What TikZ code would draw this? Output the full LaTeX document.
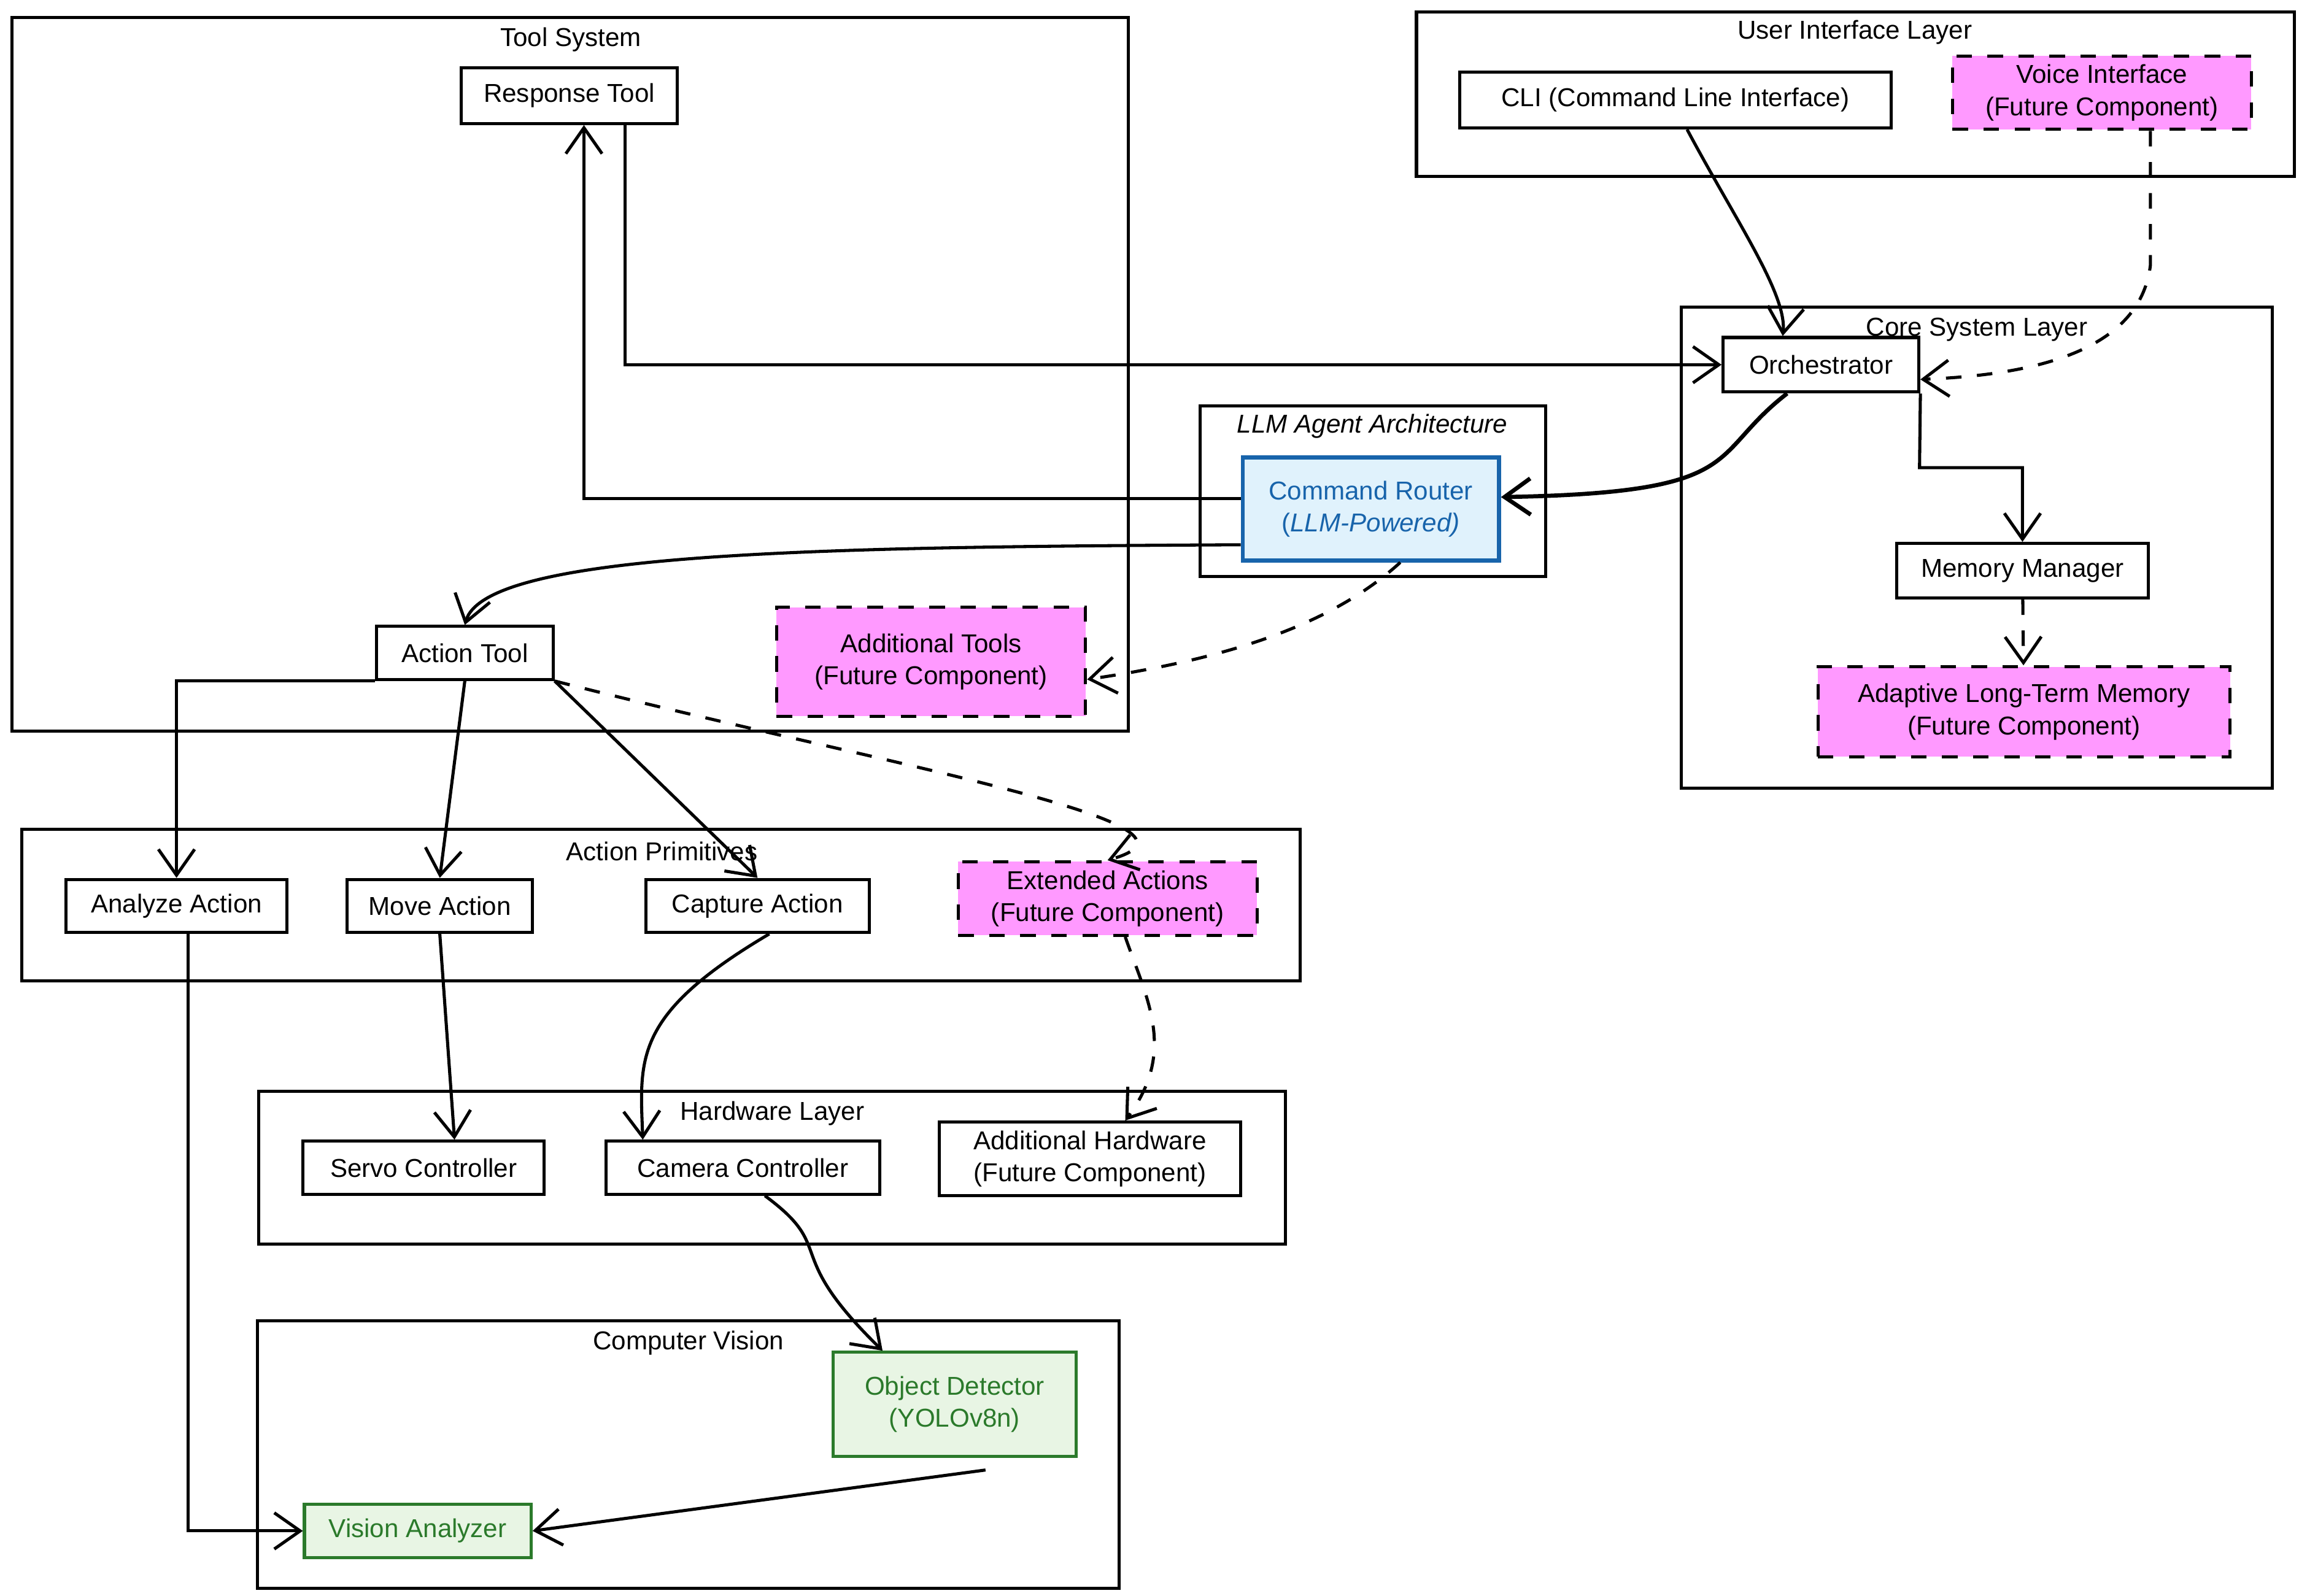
\documentclass[tikz,border=0pt]{standalone}
\usepackage{fontspec}
\setmainfont{Liberation Sans}
\usetikzlibrary{arrows.meta}
\definecolor{futurepink}{HTML}{FF99FF}
\definecolor{routerblue}{HTML}{1864AB}
\definecolor{routerfill}{HTML}{E0F2FC}
\definecolor{visgreen}{HTML}{2B7A2B}
\definecolor{visfill}{HTML}{E8F5E4}
\tikzset{
  box/.style={draw, semithick, fill=white, font=\fontsize{5}{6.2}\selectfont, align=center, inner sep=0pt},
  future/.style={box, dashed, fill=futurepink},
  layer/.style={draw, semithick},
  layertitle/.style={font=\fontsize{5}{6}\selectfont},
  link/.style={->, >={Straight Barb[length=5pt,width=7pt]}, semithick},
  flink/.style={link, dashed}
}
\begin{document}
\begin{tikzpicture}[x=0.01cm, y=-0.01cm]
\useasboundingbox (0,0) rectangle (1563,1085);
% layers
\draw[layer] (8,12) rectangle (767,497);
\node[layertitle] (tooltitle) at (388,27) {Tool System};
\draw[layer] (963,8) rectangle (1560,120);
\node[layertitle] (uititle) at (1261,22) {User Interface Layer};
\draw[layer] (1143,209) rectangle (1545,536);
\node[layertitle] (coretitle) at (1344,224) {Core System Layer};
\draw[layer, fill=white] (816,276) rectangle (1051,392);
\node[layertitle] (llmtitle) at (933,290) {\itshape LLM Agent Architecture};
\draw[layer] (15,564) rectangle (884,667);
\node[layertitle] (primtitle) at (450,579) {Action Primitives};
\draw[layer] (176,742) rectangle (874,846);
\node[layertitle] (hwtitle) at (525,757) {Hardware Layer};
\draw[layer] (175,898) rectangle (761,1080);
\node[layertitle] (cvtitle) at (468,913) {Computer Vision};
% nodes
\node[box, minimum width=1.47cm, minimum height=0.38cm] (response) at (387,65) {Response Tool};
\node[box, minimum width=2.93cm, minimum height=0.38cm] (cli) at (1139,68) {CLI (Command Line Interface)};
\node[future, minimum width=2.03cm, minimum height=0.5cm] (voice) at (1429,63) {Voice Interface\\(Future Component)};
\node[box, minimum width=1.33cm, minimum height=0.37cm] (orch) at (1238,248) {Orchestrator};
\node[box, thick, draw=routerblue, fill=routerfill, text=routerblue, minimum width=1.74cm, minimum height=0.7cm] (router) at (932,346) {Command Router\\(\itshape LLM-Powered)};
\node[box, minimum width=1.71cm, minimum height=0.37cm] (memory) at (1375,388) {Memory Manager};
\node[future, minimum width=2.8cm, minimum height=0.61cm] (ltm) at (1376,484) {Adaptive Long-Term Memory\\(Future Component)};
\node[box, minimum width=1.2cm, minimum height=0.36cm] (action) at (316,444) {Action Tool};
\node[future, minimum width=2.1cm, minimum height=0.74cm] (addtools) at (633,450) {Additional Tools\\(Future Component)};
\node[box, minimum width=1.5cm, minimum height=0.36cm] (analyze) at (120,616) {Analyze Action};
\node[box, minimum width=1.26cm, minimum height=0.36cm] (move) at (299,616) {Move Action};
\node[box, minimum width=1.52cm, minimum height=0.36cm] (capture) at (515,616) {Capture Action};
\node[future, minimum width=2.03cm, minimum height=0.5cm] (extended) at (753,611) {Extended Actions\\(Future Component)};
\node[box, minimum width=1.64cm, minimum height=0.36cm] (servo) at (288,794) {Servo Controller};
\node[box, minimum width=1.86cm, minimum height=0.36cm] (camera) at (505,794) {Camera Controller};
\node[box, minimum width=2.05cm, minimum height=0.5cm] (addhw) at (741,788) {Additional Hardware\\(Future Component)};
\node[box, draw=visgreen, fill=visfill, text=visgreen, minimum width=1.65cm, minimum height=0.71cm] (detector) at (649,955) {Object Detector\\(YOLOv8n)};
\node[box, draw=visgreen, fill=visfill, text=visgreen, minimum width=1.54cm, minimum height=0.36cm] (vision) at (284,1041) {Vision Analyzer};
% connectors
\draw[link] (cli.south) ++(8,0) .. controls (1180,150) and (1215,200) .. (orch.north west -| 1212,0);
\draw[flink] (voice.south) ++(33,0) -- (1462,180) .. controls (1455,240) and (1380,255) .. (orch.east |- 0,258);
\draw[link] (response.south) ++(38,0) |- (orch.west);
\draw[link] (router.west |- 0,339) -| (397,0 |- response.south);
\draw[link, thick] (orch.south) ++(-23,0) .. controls (1160,310) and (1190,335) .. (router.east |- 0,338);
\draw[link] (orch.south east) -- (1305,318) -| (memory.north);
\draw[flink] (memory) -- (ltm);
\draw[link] (router.south west) ++(0,-12) .. controls (560,372) and (330,375) .. (action.north);
\draw[flink] (router.south) ++(20,0) .. controls (900,430) and (820,450) .. (addtools.east |- 0,462);
\draw[link] (action.south west) -| (analyze.north);
\draw[link] (action.south) -- (move.north);
\draw[link] (action.south east) -- (capture.north);
\draw[flink] (action.south east) .. controls (600,520) and (840,560) .. (extended.north);
\draw[link] (move.south) -- (servo.north -| 309,0);
\draw[link] (capture.south) ++(8,0) .. controls (430,690) and (435,720) .. (camera.north west -| 437,0);
\draw[flink] (extended.south) ++(12,0) .. controls (780,680) and (800,715) .. (addhw.north -| 765,0);
\draw[link] (camera.south) ++(15,0) .. controls (570,850) and (530,850) .. (detector.north west -| 600,0);
\draw[link] (analyze.south) ++(8,0) |- (vision.west);
\draw[link] (detector.south) ++(21,8) -- (vision.east);
\end{tikzpicture}
\end{document}
